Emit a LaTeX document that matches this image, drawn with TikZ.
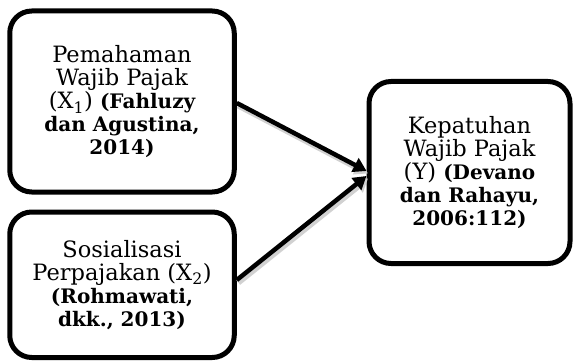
\documentclass[tikz,border=0pt]{standalone}
\usepackage{fontspec}
\setmainfont{DejaVu Serif}
\usetikzlibrary{arrows.meta}

% bold source reference, set a bit smaller to keep its width
\newcommand{\src}[1]{{\fontsize{20}{23}\selectfont\bfseries #1}}

\begin{document}
\begin{tikzpicture}[
  x=1pt, y=-1pt,
  every node/.style={font=\fontsize{22.5}{23}\selectfont},
  box/.style={rectangle, draw, line width=5pt, rounded corners=22pt,
    align=center, inner sep=0pt},
  link/.style={line width=4.5pt, -{Triangle[length=13pt,width=15pt]},
    preaction={draw=black!18, line width=6pt,
      transform canvas={xshift=1.5pt, yshift=-2.5pt}}}
]
\useasboundingbox (0,0) rectangle (573,361);

% Boxes
\node[box, minimum width=224.5pt, minimum height=181pt] (pemahaman) at (122,101.5)
  {Pemahaman\\Wajib Pajak\\(X\textsubscript{1}) \src{(Fahluzy}\\\src{dan Agustina,}\\\src{2014)}};
\node[box, minimum width=224.5pt, minimum height=145.5pt] (sosialisasi) at (122,284.75)
  {Sosialisasi\\Perpajakan (X\textsubscript{2})\\\src{(Rohmawati,}\\\src{dkk., 2013)}};
\node[box, minimum width=201pt, minimum height=182pt] (kepatuhan) at (469.5,172.5)
  {Kepatuhan\\Wajib Pajak\\(Y) \src{(Devano}\\\src{dan Rahayu,}\\\src{2006:112)}};

% Arrows
\draw[link] ([yshift=-1.5pt]pemahaman.east) -- ([yshift=1.5pt]kepatuhan.west);
\draw[link] ([yshift=4.75pt]sosialisasi.east) -- ([yshift=-3.5pt]kepatuhan.west);

\end{tikzpicture}
\end{document}
